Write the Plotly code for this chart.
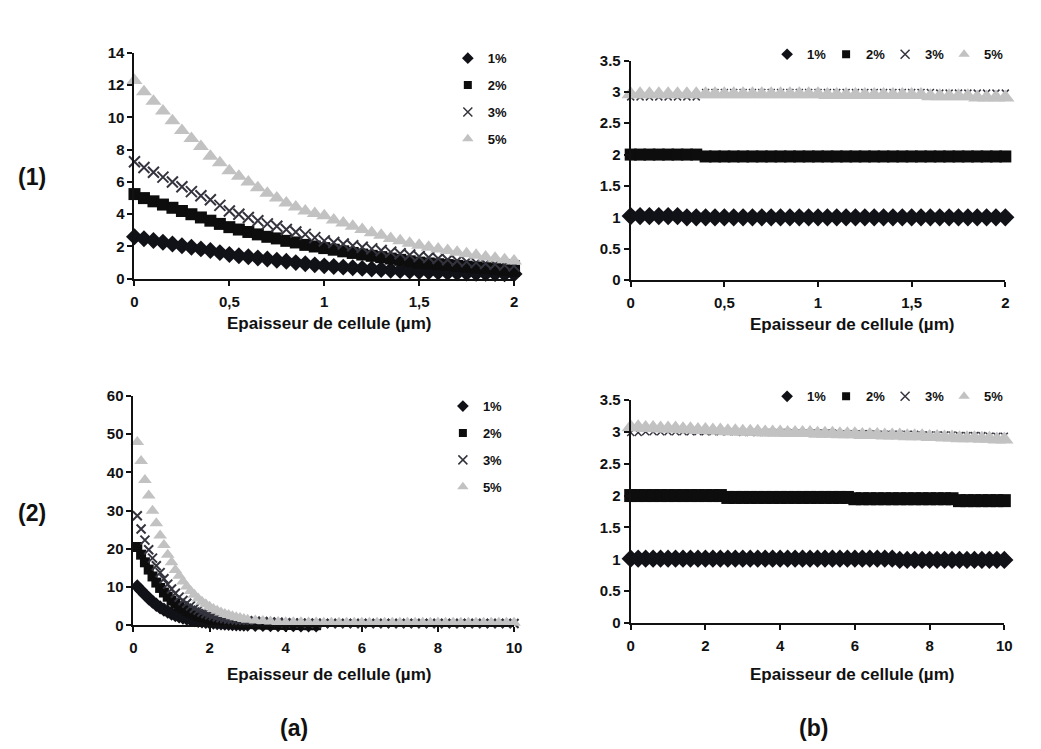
import plotly.graph_objects as go

# ---------------- data ----------------
SERIES = ["1%", "2%", "3%", "5%"]

X_1A = [0.0, 0.05, 0.1, 0.15, 0.2, 0.25, 0.3, 0.35, 0.4, 0.45, 0.5, 0.55, 0.6, 0.65, 0.7,
        0.75, 0.8, 0.85, 0.9, 0.95, 1.0, 1.05, 1.1, 1.15, 1.2, 1.25, 1.3, 1.35, 1.4, 1.45,
        1.5, 1.55, 1.6, 1.65, 1.7, 1.75, 1.8, 1.85, 1.9, 1.95, 2.0]
Y_1A_1 = [2.6, 2.48, 2.37, 2.26, 2.15, 2.05, 1.95, 1.85, 1.75, 1.62, 1.5, 1.43, 1.36, 1.29, 1.22,
          1.15, 1.08, 1.0, 0.93, 0.86, 0.8, 0.76, 0.72, 0.68, 0.64, 0.6, 0.57, 0.53, 0.5, 0.47,
          0.45, 0.43, 0.41, 0.39, 0.37, 0.35, 0.34, 0.33, 0.32, 0.31, 0.3]
Y_1A_2 = [5.25, 5.0, 4.8, 4.6, 4.4, 4.2, 4.0, 3.8, 3.6, 3.4, 3.2, 3.05, 2.9, 2.75, 2.6,
          2.5, 2.35, 2.25, 2.1, 2.0, 1.9, 1.8, 1.7, 1.6, 1.5, 1.42, 1.34, 1.25, 1.17, 1.08,
          1.0, 0.95, 0.9, 0.85, 0.8, 0.75, 0.7, 0.65, 0.6, 0.55, 0.5]
Y_1A_3 = [7.25, 6.9, 6.6, 6.3, 6.0, 5.7, 5.4, 5.15, 4.9, 4.55, 4.2, 4.0, 3.8, 3.6, 3.4,
          3.25, 3.05, 2.9, 2.75, 2.55, 2.35, 2.25, 2.15, 2.05, 1.95, 1.85, 1.75, 1.65, 1.55, 1.47,
          1.38, 1.32, 1.25, 1.18, 1.12, 1.06, 1.0, 0.95, 0.9, 0.85, 0.8]
Y_1A_5 = [12.3, 11.6, 11.0, 10.4, 9.8, 9.2, 8.7, 8.2, 7.6, 7.2, 6.7, 6.35, 6.0, 5.65, 5.3,
          5.0, 4.7, 4.45, 4.2, 4.05, 3.9, 3.65, 3.45, 3.25, 3.05, 2.85, 2.7, 2.5, 2.35, 2.2,
          2.08, 1.95, 1.85, 1.75, 1.65, 1.55, 1.45, 1.35, 1.27, 1.18, 1.1]

X_1B = X_1A
Y_1B_1 = [1.02, 1.02, 1.02, 1.02, 1.02, 1.02, 1.0, 1.0, 1.0, 1.0, 1.0, 1.0, 1.0, 1.0, 1.0,
          1.0, 1.0, 1.0, 1.0, 1.0, 1.0, 1.0, 1.0, 1.0, 1.0, 1.0, 1.0, 1.0, 1.0, 1.0,
          1.0, 1.0, 1.0, 1.0, 1.0, 1.0, 1.0, 1.0, 1.0, 1.0, 1.0]
Y_1B_2 = [2.0, 2.0, 2.0, 2.0, 2.0, 2.0, 2.0, 2.0, 1.97, 1.97, 1.97, 1.97, 1.97, 1.97, 1.97,
          1.97, 1.97, 1.97, 1.97, 1.97, 1.97, 1.97, 1.97, 1.97, 1.97, 1.97, 1.97, 1.97, 1.97, 1.97,
          1.97, 1.97, 1.97, 1.97, 1.97, 1.97, 1.97, 1.97, 1.97, 1.97, 1.97]
Y_1B_3 = [2.92, 2.92, 2.92, 2.92, 2.92, 2.92, 2.92, 2.92, 2.99, 2.99, 2.99, 2.99, 2.99, 2.99, 2.99,
          2.99, 2.99, 2.99, 2.99, 2.99, 2.99, 2.99, 2.99, 2.99, 2.99, 2.99, 2.99, 2.99, 2.99, 2.99,
          2.99, 2.99, 2.99, 2.98, 2.98, 2.98, 2.98, 2.98, 2.98, 2.98, 2.98]
Y_1B_5 = [2.96, 2.96, 2.96, 2.96, 2.96, 2.96, 2.96, 2.96, 2.96, 2.96, 2.96, 2.96, 2.96, 2.96, 2.96,
          2.96, 2.96, 2.96, 2.96, 2.96, 2.96, 2.95, 2.95, 2.95, 2.95, 2.95, 2.95, 2.95, 2.95, 2.95,
          2.95, 2.95, 2.93, 2.93, 2.93, 2.93, 2.93, 2.91, 2.91, 2.91, 2.91]

X_2A = [0.1, 0.2, 0.3, 0.4, 0.5, 0.6, 0.7, 0.8, 0.9, 1.0, 1.1, 1.2, 1.3, 1.4, 1.5,
        1.6, 1.7, 1.8, 1.9, 2.0, 2.1, 2.2, 2.3, 2.4, 2.5, 2.6, 2.7, 2.8, 2.9, 3.0,
        3.2, 3.4, 3.6, 3.8, 4.0, 4.2, 4.4, 4.6, 4.8, 5.0, 5.2, 5.4, 5.6, 5.8, 6.0,
        6.2, 6.4, 6.6, 6.8, 7.0, 7.2, 7.4, 7.6, 7.8, 8.0, 8.2, 8.4, 8.6, 8.8, 9.0,
        9.2, 9.4, 9.6, 9.8, 10.0]
Y_2A_1 = [10.2, 9.1, 8.1, 7.1, 6.2, 5.4, 4.7, 4.1, 3.6, 3.1, 2.7, 2.35, 2.05, 1.8, 1.55,
          1.35, 1.2, 1.05, 0.9, 0.8, 0.7, 0.6, 0.52, 0.45, 0.4, 0.35, 0.3, 0.26, 0.22, 0.2,
          0.16, 0.13, 0.1, 0.08, 0.06, 0.05, 0.04, 0.03, 0.02, None, None, None, None, None, None,
          None, None, None, None, None, None, None, None, None, None, None, None, None, None, None,
          None, None, None, None, None]
Y_2A_2 = [20.5, 18.5, 16.5, 14.6, 12.8, 11.2, 9.8, 8.6, 7.5, 6.5, 5.7, 5.0, 4.4, 3.8, 3.3,
          2.9, 2.5, 2.2, 1.9, 1.6, 1.4, 1.2, 1.05, 0.9, 0.8, 0.7, 0.6, 0.5, 0.45, 0.4,
          0.32, 0.26, 0.2, 0.16, 0.13, 0.1, 0.08, 0.06, 0.05, None, None, None, None, None, None,
          None, None, None, None, None, None, None, None, None, None, None, None, None, None, None,
          None, None, None, None, None]
Y_2A_3 = [28.7, 25.2, 22.3, 19.8, 17.6, 15.6, 13.8, 12.2, 10.8, 9.5, 8.4, 7.4, 6.5, 5.8, 5.1,
          4.5, 4.0, 3.5, 3.1, 2.8, 2.5, 2.2, 2.0, 1.8, 1.6, 1.5, 1.4, 1.3, 1.25, 1.2,
          1.1, 1.0, 0.9, 0.8, 0.7, 0.65, 0.6, 0.55, 0.55, 0.5, 0.5, 0.5, 0.5, 0.5, 0.5,
          0.5, 0.5, 0.5, 0.5, 0.5, 0.5, 0.5, 0.5, 0.5, 0.5, 0.5, 0.5, 0.5, 0.5, 0.5,
          0.5, 0.5, 0.5, 0.5, 0.5]
Y_2A_5 = [48.0, 43.0, 38.0, 34.0, 30.0, 26.7, 23.5, 21.0, 18.5, 16.5, 14.5, 13.0, 11.5, 10.2, 9.0,
          8.0, 7.0, 6.2, 5.5, 4.9, 4.3, 3.8, 3.4, 3.0, 2.7, 2.4, 2.1, 1.9, 1.7, 1.5,
          1.3, 1.15, 1.0, 0.9, 0.85, 0.8, 0.8, 0.75, 0.75, 0.7, 0.7, 0.7, 0.7, 0.7, 0.7,
          0.7, 0.7, 0.7, 0.7, 0.7, 0.7, 0.7, 0.7, 0.7, 0.7, 0.7, 0.7, 0.7, 0.7, 0.7,
          0.7, 0.7, 0.7, 0.7, 0.7]

X_2B = [0.0, 0.2, 0.4, 0.6, 0.8, 1.0, 1.2, 1.4, 1.6, 1.8, 2.0, 2.2, 2.4, 2.6, 2.8, 3.0,
        3.2, 3.4, 3.6, 3.8, 4.0, 4.2, 4.4, 4.6, 4.8, 5.0, 5.2, 5.4, 5.6, 5.8, 6.0,
        6.2, 6.4, 6.6, 6.8, 7.0, 7.2, 7.4, 7.6, 7.8, 8.0, 8.2, 8.4, 8.6, 8.8, 9.0,
        9.2, 9.4, 9.6, 9.8, 10.0]
Y_2B_1 = [1.01, 1.01, 1.01, 1.01, 1.01, 1.01, 1.01, 1.01, 1.01, 1.01, 1.01, 1.01, 1.01, 1.01, 1.01, 1.01,
          1.01, 1.01, 1.01, 1.01, 1.01, 1.01, 1.01, 1.01, 1.01, 1.01, 1.01, 1.01, 1.01, 1.01, 1.01,
          1.01, 1.01, 1.01, 1.01, 1.01, 0.99, 0.99, 0.99, 0.99, 0.99, 0.99, 0.99, 0.99, 0.99, 0.99,
          0.99, 0.99, 0.99, 0.99, 0.99]
Y_2B_2 = [2.0, 2.0, 2.0, 2.0, 2.0, 2.0, 2.0, 2.0, 2.0, 2.0, 2.0, 2.0, 2.0, 1.97, 1.97, 1.97,
          1.97, 1.97, 1.97, 1.97, 1.97, 1.97, 1.97, 1.97, 1.97, 1.97, 1.97, 1.97, 1.97, 1.97, 1.95,
          1.95, 1.95, 1.95, 1.95, 1.95, 1.95, 1.95, 1.95, 1.95, 1.95, 1.95, 1.95, 1.95, 1.92, 1.92,
          1.92, 1.92, 1.92, 1.92, 1.92]
Y_2B_3 = [2.99, 2.99, 3.0, 3.0, 3.0, 3.0, 3.0, 3.0, 3.0, 3.0, 3.0, 3.0, 3.0, 3.0, 3.0, 2.99,
          2.99, 2.99, 2.99, 2.99, 2.99, 2.99, 2.98, 2.98, 2.98, 2.98, 2.98, 2.98, 2.97, 2.97, 2.97,
          2.97, 2.97, 2.96, 2.96, 2.96, 2.96, 2.96, 2.96, 2.95, 2.95, 2.95, 2.95, 2.95, 2.94, 2.94,
          2.94, 2.94, 2.93, 2.93, 2.93]
Y_2B_5 = [3.07, 3.07, 3.06, 3.06, 3.05, 3.05, 3.05, 3.04, 3.04, 3.03, 3.03, 3.02, 3.02, 3.01, 3.01, 3.0,
          3.0, 3.0, 2.99, 2.99, 2.99, 2.98, 2.98, 2.98, 2.98, 2.97, 2.97, 2.97, 2.96, 2.96, 2.96,
          2.95, 2.95, 2.95, 2.94, 2.94, 2.94, 2.93, 2.93, 2.93, 2.92, 2.92, 2.91, 2.91, 2.9, 2.9,
          2.9, 2.89, 2.89, 2.88, 2.88]

TICKS_1A_X = [0, 0.5, 1, 1.5, 2]
TICKTEXT_1A_X = ["0", "0,5", "1", "1,5", "2"]
TICKS_1A_Y = [0, 2, 4, 6, 8, 10, 12, 14]
TICKS_B_Y = [0, 0.5, 1, 1.5, 2, 2.5, 3, 3.5]
TICKTEXT_B_Y = ["0", "0.5", "1", "1.5", "2", "2.5", "3", "3.5"]
TICKS_2A_X = [0, 2, 4, 6, 8, 10]
TICKS_2A_Y = [0, 10, 20, 30, 40, 50, 60]

# ---------------- styles / layout ----------------
FONT = "Liberation Sans, Arial, sans-serif"
INK = "#111111"
STYLE = {
    "1%": dict(symbol="diamond", color="#111118", leg=9),
    "2%": dict(symbol="square", color="#0d0d0d", leg=8),
    "3%": dict(symbol="x-thin", color="#34343f", leg=9),
    "5%": dict(symbol="triangle-up", color="#c2c2c2", leg=10),
}

# the page body margin is removed (post_script), so the figure fills the window
FW, FH = 1041, 749


def px(x):
    return x / FW


def py(y):
    return 1 - y / FH


def dom_x(a, b):
    return [px(a), px(b)]


def dom_y(top, bottom):
    return [py(bottom), py(top)]


def make_marker(st, size, lw=2):
    m = dict(symbol=st["symbol"], size=size, color=st["color"])
    if st["symbol"] == "x-thin":
        m["line"] = dict(width=lw, color=st["color"])
    else:
        m["line"] = dict(width=0)
    return m


fig = go.Figure()

panels = [
    ("x", "y", "legend", X_1A, [Y_1A_1, Y_1A_2, Y_1A_3, Y_1A_5], [13, 12, 11, 14], 2),
    ("x2", "y2", "legend2", X_1B, [Y_1B_1, Y_1B_2, Y_1B_3, Y_1B_5], [14, 12, 7, 16], 1.5),
    ("x3", "y3", "legend3", X_2A, [Y_2A_1, Y_2A_2, Y_2A_3, Y_2A_5], [11, 10, 9, 12], 2),
    ("x4", "y4", "legend4", X_2B, [Y_2B_1, Y_2B_2, Y_2B_3, Y_2B_5], [14, 13, 7, 16], 1.5),
]

for xa, ya, lg, xs, ylist, sizes, lw in panels:
    for name, ys, sz in zip(SERIES, ylist, sizes):
        st = STYLE[name]
        fig.add_trace(go.Scatter(
            x=xs, y=ys, mode="markers", name=name, marker=make_marker(st, sz, lw),
            xaxis=xa, yaxis=ya, legendgroup=lg + name,
            cliponaxis=False, showlegend=False, hoverinfo="skip",
        ))
    # legend-only entries with smaller symbols (no data drawn)
    for name in SERIES:
        st = STYLE[name]
        fig.add_trace(go.Scatter(
            x=[None], y=[None], mode="markers", name=name,
            marker=make_marker(st, st["leg"], 1.5),
            xaxis=xa, yaxis=ya, legend=lg, legendgroup=lg + name,
            showlegend=True,
        ))

axis_common = dict(
    showline=True, linecolor=INK, linewidth=2, ticks="outside", ticklen=5,
    tickwidth=1.5, tickcolor=INK, showgrid=False, zeroline=False,
    tickfont=dict(family=FONT, size=15, color=INK, weight="bold"),
)
xax = dict(axis_common, ticklabelstandoff=3)
yax = dict(axis_common)

fig.update_layout(
    width=FW, height=FH, margin=dict(l=0, r=0, t=0, b=0),
    paper_bgcolor="white", plot_bgcolor="white",
    font=dict(family=FONT, size=13, color=INK, weight="bold"),
    xaxis=dict(domain=dom_x(132, 516), range=[0, 2], anchor="y",
               tickvals=TICKS_1A_X, ticktext=TICKTEXT_1A_X, **xax),
    yaxis=dict(domain=dom_y(45, 276), range=[0, 14], anchor="x",
               tickvals=TICKS_1A_Y, **yax),
    xaxis2=dict(domain=dom_x(634, 1013), range=[0, 2], anchor="y2",
                tickvals=TICKS_1A_X, ticktext=TICKTEXT_1A_X, **xax),
    yaxis2=dict(domain=dom_y(52.7, 277.3), range=[0, 3.5], anchor="x2",
                tickvals=TICKS_B_Y, ticktext=TICKTEXT_B_Y, **yax),
    xaxis3=dict(domain=dom_x(131, 516), range=[0, 10], anchor="y3",
                tickvals=TICKS_2A_X, **xax),
    yaxis3=dict(domain=dom_y(396, 630.7), range=[0, 60], anchor="x3",
                tickvals=TICKS_2A_Y, **yax),
    xaxis4=dict(domain=dom_x(634, 1012), range=[0, 10], anchor="y4",
                tickvals=TICKS_2A_X, **xax),
    yaxis4=dict(domain=dom_y(400, 628.3), range=[0, 3.5], anchor="x4",
                tickvals=TICKS_B_Y, ticktext=TICKTEXT_B_Y, **yax),
)

leg_font = dict(family=FONT, size=13, color=INK, weight="bold")
common_leg = dict(font=leg_font, bgcolor="rgba(0,0,0,0)", itemsizing="trace",
                  xanchor="left", yanchor="top")
fig.update_layout(
    legend=dict(common_leg, x=px(449), y=py(35), orientation="v", tracegroupgap=7),
    legend2=dict(common_leg, x=px(772), y=py(31), orientation="h",
                 entrywidth=14, entrywidthmode="pixels", tracegroupgap=0),
    legend3=dict(common_leg, x=px(444), y=py(391), orientation="v", tracegroupgap=7),
    legend4=dict(common_leg, x=px(772), y=py(381), orientation="h",
                 entrywidth=14, entrywidthmode="pixels", tracegroupgap=0),
)

title_font = dict(family=FONT, size=17, color=INK, weight="bold")
big_font = dict(family=FONT, size=23, color=INK, weight="bold")
annots = [
    (329, 322, "Epaisseur de cellule (µm)", title_font),
    (858, 323, "Epaisseur de cellule (µm)", title_font),
    (329, 681, "Epaisseur de cellule (µm)", title_font),
    (858, 681, "Epaisseur de cellule (µm)", title_font),
    (28, 172, "(1)", big_font),
    (28, 516, "(2)", big_font),
    (293, 736, "(a)", big_font),
    (819, 736, "(b)", big_font),
]
for ax_, ay_, txt, f in annots:
    fig.add_annotation(x=px(ax_), y=py(ay_), xref="paper", yref="paper",
                       text=txt, showarrow=False, font=f,
                       xanchor="center", yanchor="middle")

fig.write_html(
    "out.html",
    config={"displayModeBar": False},
    post_script=("document.body.style.margin='0';"
                 "document.body.style.overflow='hidden';"
                 "document.documentElement.style.overflow='hidden';"),
)
